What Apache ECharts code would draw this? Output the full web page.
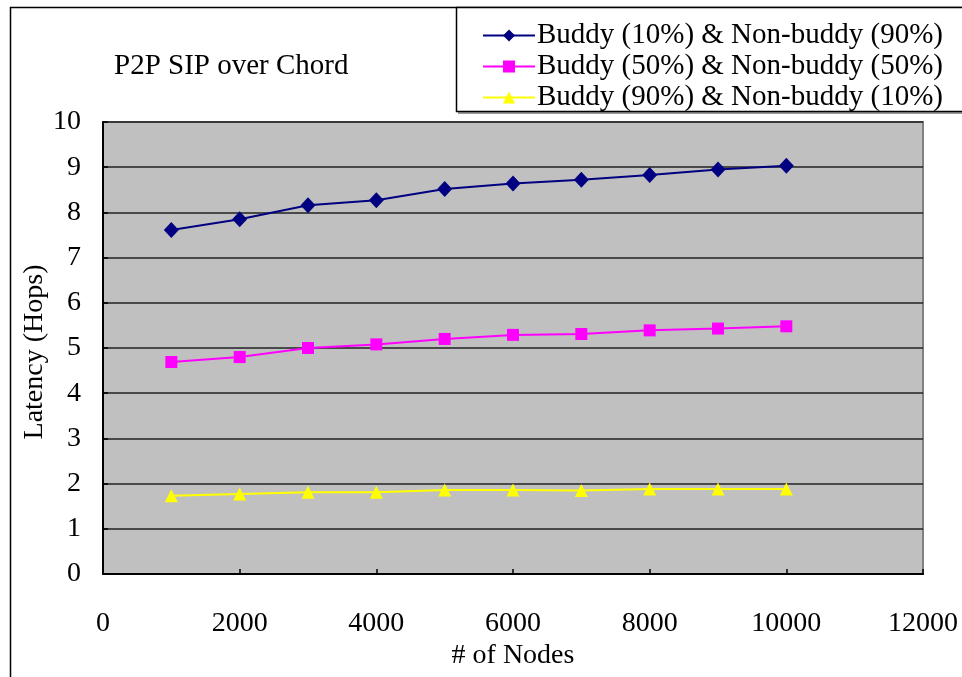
<!DOCTYPE html>
<html>
<head>
<meta charset="utf-8">
<script src="https://cdn.jsdelivr.net/npm/echarts@6/dist/echarts.min.js"></script>
<style>
html,body{margin:0;padding:0;background:#fff;}
#c{width:962px;height:677px;}
</style>
</head>
<body>
<div id="c"></div>
<script>
var nodes = [1000, 2000, 3000, 4000, 5000, 6000, 7000, 8000, 9000, 10000];
var buddy10 = [7.61, 7.85, 8.16, 8.27, 8.52, 8.64, 8.72, 8.83, 8.95, 9.03];
var buddy50 = [4.69, 4.80, 5.00, 5.08, 5.20, 5.29, 5.31, 5.39, 5.43, 5.48];
var buddy90 = [1.73, 1.77, 1.81, 1.81, 1.86, 1.86, 1.85, 1.88, 1.88, 1.88];
var seriesNames = ['Buddy (10%) & Non-buddy (90%)', 'Buddy (50%) & Non-buddy (50%)', 'Buddy (90%) & Non-buddy (10%)'];
var titleText = 'P2P SIP over Chord';
var xName = '# of Nodes';
var yName = 'Latency (Hops)';

var FONT = "'Liberation Serif', 'DejaVu Serif', serif";
function pairs(ys){ return nodes.map(function(x,i){ return [x, ys[i]]; }); }

var chart = echarts.init(document.getElementById('c'), null, {renderer:'canvas'});
chart.setOption({
  backgroundColor: '#ffffff',
  animation: false,
  textStyle: {fontFamily: FONT, color: '#000'},
  title: {
    text: titleText, left: 109, top: 47,
    textStyle: {fontFamily: FONT, fontSize: 29, fontWeight: 'normal', color: '#000'}
  },
  graphic: [
    {type:'rect', silent:true, z:-1, shape:{x:10.5, y:7.5, width:1000, height:1000}, style:{fill:'none', stroke:'#000', lineWidth:1.5}},
    {type:'rect', silent:true, z:0, shape:{x:458, y:10, width:600, height:104}, style:{fill:'#9a9a9a', stroke:null}},
    {type:'rect', silent:true, z:1, shape:{x:456.5, y:7.5, width:600, height:104}, style:{fill:'#fff', stroke:'#000', lineWidth:1.5}},
    {type:'text', silent:true, z:5, rotation: Math.PI/2, x:35, y:352,
     style:{text:yName, fontFamily:FONT, fontSize:28, fill:'#000', textAlign:'center', textVerticalAlign:'middle'}},
    {type:'text', silent:true, z:5, x:513, y:656,
     style:{text:xName, fontFamily:FONT, fontSize:28, fill:'#000', textAlign:'center', textVerticalAlign:'middle'}}
  ],
  legend: {
    orient: 'vertical', left: 477, top: 15, z: 10,
    itemWidth: 52, itemHeight: 15, itemGap: 0,
    textStyle: {fontFamily: FONT, fontSize: 29, color:'#000', lineHeight: 31, padding:[0,0,0,-3]},
    data: seriesNames
  },
  grid: {left: 103, top: 122, right: 39, bottom: 103, show: true, backgroundColor: '#c0c0c0', borderColor: '#808080', borderWidth: 2},
  xAxis: {
    type: 'value', min: 0, max: 12000, interval: 2000,
    axisLine: {show:true, onZero:false, lineStyle:{color:'#000', width:2}},
    axisTick: {show:true, inside:true, length:5, lineStyle:{color:'#000', width:1.5}},
    axisLabel: {fontFamily: FONT, fontSize: 28, color:'#000', margin: 36, formatter: function(v){ return String(v); }},
    splitLine: {show:false}
  },
  yAxis: {
    type: 'value', min: 0, max: 10, interval: 1,
    axisLine: {show:true, lineStyle:{color:'#000', width:2}},
    axisTick: {show:true, inside:true, length:5, lineStyle:{color:'#000', width:1.5}},
    axisLabel: {fontFamily: FONT, fontSize: 28, color:'#000', margin: 22},
    splitLine: {show:true, lineStyle:{color:'#222', width:1.5}}
  },
  series: [
    {name: seriesNames[0], type:'line', data: pairs(buddy10), symbol:'diamond', symbolSize:[15,16],
     lineStyle:{color:'#000080', width:2}, itemStyle:{color:'#000080'}, z:3},
    {name: seriesNames[1], type:'line', data: pairs(buddy50), symbol:'rect', symbolSize:12,
     lineStyle:{color:'#ff00ff', width:2}, itemStyle:{color:'#ff00ff'}, z:3},
    {name: seriesNames[2], type:'line', data: pairs(buddy90), symbol:'triangle', symbolSize:[13,13],
     lineStyle:{color:'#ffff00', width:2}, itemStyle:{color:'#ffff00'}, z:3}
  ]
});
</script>
</body>
</html>
